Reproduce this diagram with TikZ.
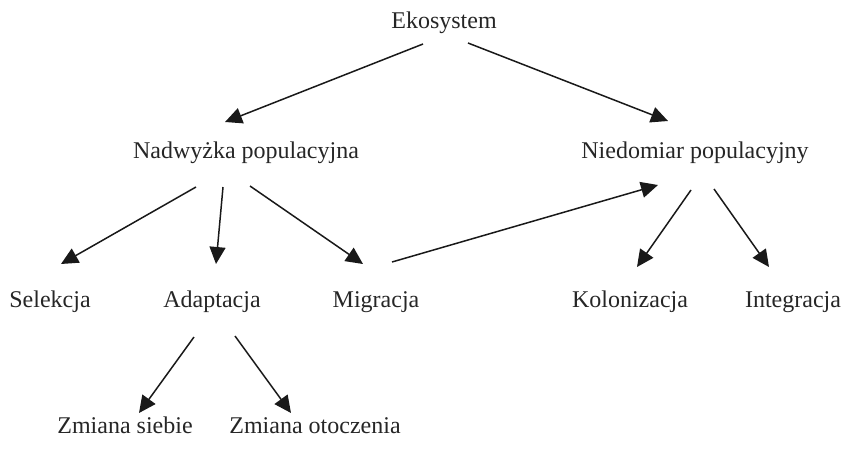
\documentclass[tikz,border=0pt]{standalone}
\usepackage{fontspec}
\setmainfont{Liberation Serif}
\usetikzlibrary{arrows.meta}
\begin{document}
\begin{tikzpicture}[x=1pt,y=-1pt,
  lbl/.style={anchor=base,inner sep=0pt,font=\fontsize{24}{28}\selectfont,text=black!85},
  arr/.style={line width=1.5pt,draw=black!90,-{Triangle[length=17pt,width=16pt]}}]
\useasboundingbox (0,0) rectangle (845,450);
\node[lbl] (eko) at (444,28) {Ekosystem};
\node[lbl] (nad) at (246,158) {Nadwyżka populacyjna};
\node[lbl] (nie) at (695,158) {Niedomiar populacyjny};
\node[lbl] (sel) at (50,307) {Selekcja};
\node[lbl] (ada) at (212,307) {Adaptacja};
\node[lbl] (mig) at (376,307) {Migracja};
\node[lbl] (kol) at (630,307) {Kolonizacja};
\node[lbl] (int) at (793,307) {Integracja};
\node[lbl] (zsi) at (125,433) {Zmiana siebie};
\node[lbl] (zot) at (315,433) {Zmiana otoczenia};
% connector ends
\coordinate (a1s) at (423,44); \coordinate (a1t) at (225,122);
\coordinate (a2s) at (468,43); \coordinate (a2t) at (668,121);
\coordinate (a3s) at (196,187); \coordinate (a3t) at (61,264);
\coordinate (a4s) at (223,187); \coordinate (a4t) at (216,264);
\coordinate (a5s) at (250,186); \coordinate (a5t) at (363,264);
\coordinate (a6s) at (392,262); \coordinate (a6t) at (658,185);
\coordinate (a7s) at (691,190); \coordinate (a7t) at (637,267);
\coordinate (a8s) at (714,189); \coordinate (a8t) at (769,267);
\coordinate (a9s) at (194,337); \coordinate (a9t) at (139,413);
\coordinate (a10s) at (235,336); \coordinate (a10t) at (291,413);
\draw[arr] (a1s) -- (a1t);
\draw[arr] (a2s) -- (a2t);
\draw[arr] (a3s) -- (a3t);
\draw[arr] (a4s) -- (a4t);
\draw[arr] (a5s) -- (a5t);
\draw[arr] (a6s) -- (a6t);
\draw[arr] (a7s) -- (a7t);
\draw[arr] (a8s) -- (a8t);
\draw[arr] (a9s) -- (a9t);
\draw[arr] (a10s) -- (a10t);
\end{tikzpicture}
\end{document}
